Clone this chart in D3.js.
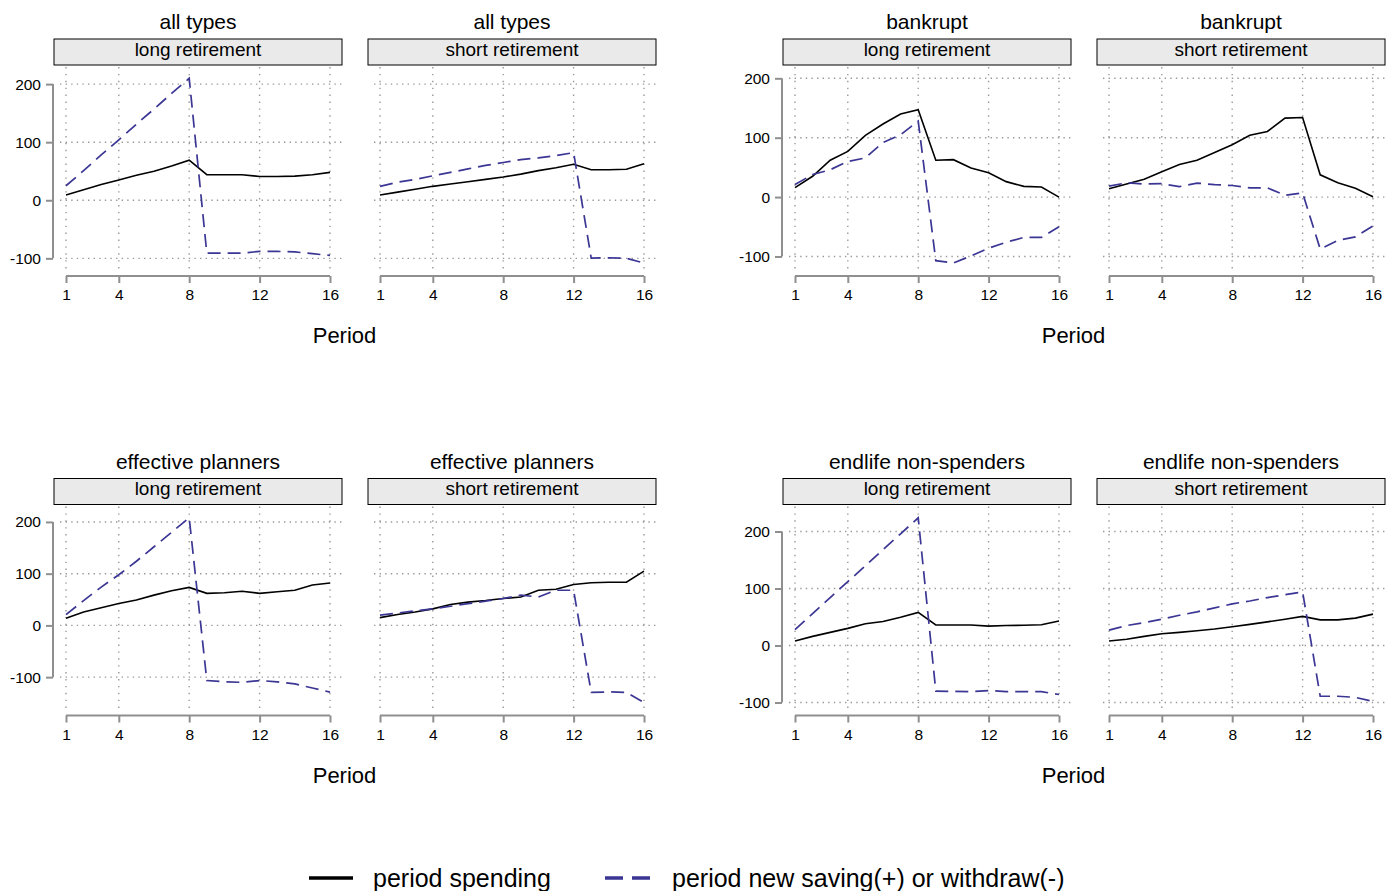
<!DOCTYPE html>
<html>
<head>
<meta charset="utf-8">
<script src="https://cdn.jsdelivr.net/npm/d3@7"></script>
<style>
  body { margin: 0; background: #fff; }
  svg { display: block; font-family: "Liberation Sans", Arial, Helvetica, sans-serif; }
</style>
</head>
<body>
<div id="chart"></div>
<script>
const periods = [1, 2, 3, 4, 5, 6, 7, 8, 9, 10, 11, 12, 13, 14, 15, 16];
const groupNames = ['all types', 'bankrupt', 'effective planners', 'endlife non-spenders'];
const retireNames = ['long retirement', 'short retirement'];
const xTicks = [1, 4, 8, 12, 16];
const yTicks = [-100, 0, 100, 200];
const legendLabels = ['period spending', 'period new saving(+) or withdraw(-)'];

// all types
const spendAllLong  = [9, 18, 27, 35, 43, 50, 59, 69, 44, 44, 44, 41, 41, 41.5, 44, 48];
const saveAllLong   = [25, 51, 78, 104, 131, 157, 184, 210, -91, -91, -91, -88, -88, -89, -92, -95];
const spendAllShort = [9, 14, 19, 24, 28, 32, 36, 40, 45, 51, 56, 62, 52.5, 52.5, 53.5, 63];
const saveAllShort  = [24, 31, 36, 42, 48, 54, 60, 65, 70, 73, 77, 82, -99.5, -99, -100, -108];
// bankrupt
const spendBankLong  = [16, 35, 62, 77, 104, 123, 140, 147, 62, 63, 49, 41, 26, 18, 17, 0];
const saveBankLong   = [21, 38, 46, 60, 66, 92, 105, 128, -107, -111, -99, -86, -76, -68, -68, -50];
const spendBankShort = [14, 22, 30, 42.5, 55, 62, 75, 88, 104, 110.5, 133, 134, 37.5, 24, 15, 0.5];
const saveBankShort  = [18.5, 24, 22, 22.5, 17.5, 23.5, 21, 19.5, 15.5, 15.5, 3, 7, -87.5, -73, -67, -48.5];
// effective planners
const spendEffLong  = [14, 26, 34, 42.5, 49, 58.5, 67, 73.5, 62, 63, 66, 62, 65, 68, 78, 82];
const saveEffLong   = [21, 48, 74, 98, 124, 152, 180, 208, -106.5, -109, -110, -106.5, -109, -113, -121, -129];
const spendEffShort = [15, 21, 26, 32, 40.5, 45, 48, 52, 55, 68, 70, 79, 82.5, 83.5, 83.5, 105];
const saveEffShort  = [20, 24, 28, 32, 37, 42, 47, 52, 58.5, 55, 68, 68, -129.5, -128.5, -129.5, -149];
// endlife non-spenders
const spendEndLong  = [8, 16, 23, 30, 38, 42, 49.5, 58, 36, 36, 36, 34, 35, 35.5, 36.5, 43];
const saveEndLong   = [28, 56, 84, 112, 140, 168, 196, 224, -80, -80.5, -81, -79, -81, -81, -81, -86];
const spendEndShort = [8, 11, 16, 20.5, 23, 26, 29, 33, 37, 41.5, 46, 51, 45, 45, 48, 55];
const saveEndShort  = [27, 35, 40, 46, 53, 59, 66, 73, 78, 84, 89, 94, -89, -89, -91, -98];

const spendSeries = [
  [spendAllLong, spendAllShort], [spendBankLong, spendBankShort],
  [spendEffLong, spendEffShort], [spendEndLong, spendEndShort]
];
const saveSeries = [
  [saveAllLong, saveAllShort], [saveBankLong, saveBankShort],
  [saveEffLong, saveEffShort], [saveEndLong, saveEndShort]
];

const W = 1386, H = 891;
const colX = [54, 783], rowY = [0, 439.5];
const panelW = 288, panelStep = 314;
const gridCol = '#999', axisCol = '#8f8f8f', saveCol = '#3b3694';

const svg = d3.select('#chart').append('svg')
  .attr('width', W).attr('height', H).attr('viewBox', `0 0 ${W} ${H}`);

function styleAxis(a) {
  a.selectAll('.domain, line').attr('stroke', axisCol).attr('stroke-width', 2);
  a.selectAll('text').attr('fill', '#000').attr('font-size', 15.5).attr('font-family', null);
}

groupNames.forEach((name, g) => {
  const gx = colX[g % 2], gy = rowY[Math.floor(g / 2)];
  const all = [].concat(...spendSeries[g], ...saveSeries[g], yTicks);
  const yScale = d3.scaleLinear().domain(d3.extent(all)).range([gy + 263, gy + 78.3]);

  // y axis, left of the first panel only
  const yAxis = svg.append('g').attr('transform', `translate(${gx - 1},0)`)
    .call(d3.axisLeft(yScale).tickValues(yTicks).tickFormat(d => String(d))
      .tickSize(7).tickPadding(5).tickSizeOuter(0));
  yAxis.select('.domain').attr('d', `M0,${yScale(200)}V${yScale(-100)}`);
  styleAxis(yAxis);

  retireNames.forEach((rname, p) => {
    const bx = gx + p * panelStep;
    const xScale = d3.scaleLinear().domain([1, 16]).range([bx + 12, bx + 276]);
    const pg = svg.append('g');

    // title + strip
    pg.append('text').attr('x', bx + panelW / 2).attr('y', gy + 29.3)
      .attr('text-anchor', 'middle').attr('font-size', 21).attr('fill', '#000').text(name);
    pg.append('rect').attr('x', bx).attr('y', gy + 39).attr('width', panelW).attr('height', 26)
      .attr('fill', '#eaeaea').attr('stroke', '#000').attr('stroke-width', 1);
    pg.append('text').attr('x', bx + panelW / 2).attr('y', gy + 55.5)
      .attr('text-anchor', 'middle').attr('font-size', 19).attr('fill', '#000').text(rname);

    // dotted grid
    pg.selectAll('.hg').data(yTicks).enter().append('line')
      .attr('x1', bx + 6).attr('x2', bx + panelW + 1)
      .attr('y1', d => yScale(d)).attr('y2', d => yScale(d))
      .attr('stroke', gridCol).attr('stroke-width', 1.4).attr('stroke-dasharray', '1.4,4.2');
    pg.selectAll('.vg').data(xTicks).enter().append('line')
      .attr('x1', d => xScale(d)).attr('x2', d => xScale(d))
      .attr('y1', gy + 67).attr('y2', gy + 270)
      .attr('stroke', gridCol).attr('stroke-width', 1.4).attr('stroke-dasharray', '1.4,5.5');

    // x axis
    const xAxis = pg.append('g').attr('transform', `translate(0,${gy + 276})`)
      .call(d3.axisBottom(xScale).tickValues(xTicks).tickSize(7).tickPadding(6).tickSizeOuter(0));
    xAxis.select('.domain').attr('d', `M${xScale(1)},0H${xScale(16)}`);
    styleAxis(xAxis);

    const line = d3.line().x((d, i) => xScale(periods[i])).y(d => yScale(d));
    pg.append('path').attr('d', line(spendSeries[g][p]))
      .attr('fill', 'none').attr('stroke', '#000').attr('stroke-width', 1.6);
    pg.append('path').attr('d', line(saveSeries[g][p]))
      .attr('fill', 'none').attr('stroke', saveCol).attr('stroke-width', 1.7)
      .attr('stroke-dasharray', '13,7');
  });

  svg.append('text').attr('x', gx + 290.5).attr('y', gy + 343.3)
    .attr('text-anchor', 'middle').attr('font-size', 22).attr('fill', '#000').text('Period');
});

// legend
const leg = svg.append('g');
leg.append('line').attr('x1', 309).attr('x2', 353).attr('y1', 878).attr('y2', 878)
  .attr('stroke', '#000').attr('stroke-width', 3.5);
leg.append('text').attr('x', 373).attr('y', 886.5).attr('font-size', 25).text(legendLabels[0]);
leg.append('line').attr('x1', 605).attr('x2', 650).attr('y1', 878).attr('y2', 878)
  .attr('stroke', saveCol).attr('stroke-width', 3.5).attr('stroke-dasharray', '18,9');
leg.append('text').attr('x', 672).attr('y', 886.5).attr('font-size', 25).text(legendLabels[1]);
</script>
</body>
</html>
